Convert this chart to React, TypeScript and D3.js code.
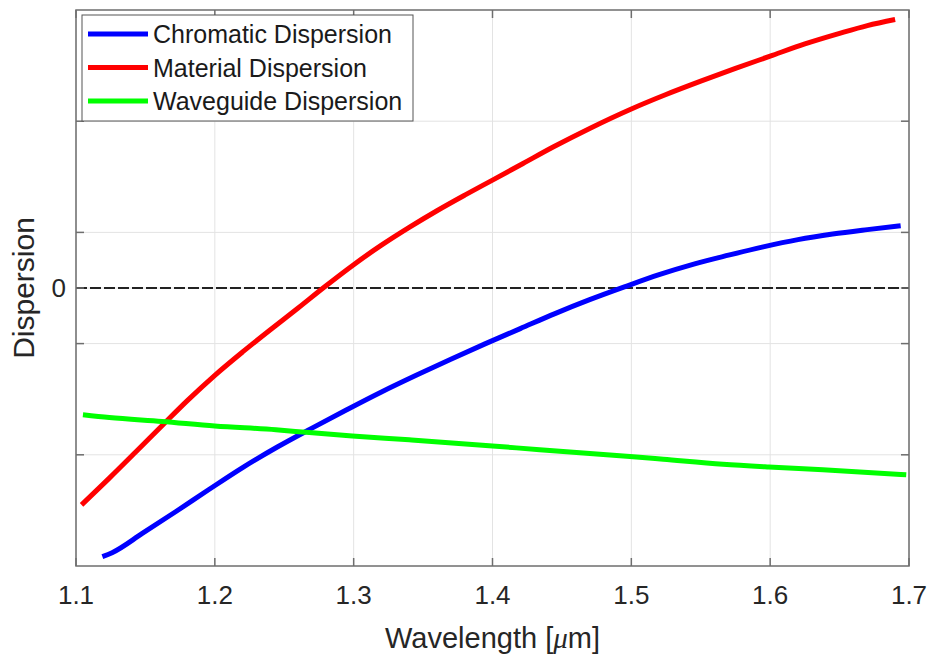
import React, { useEffect, useRef } from "react";
import * as d3 from "d3";

// wavelength [um] and dispersion readings for each curve
const chromaticX = [1.119, 1.126, 1.148, 1.172, 1.196, 1.22, 1.245, 1.27, 1.295, 1.32, 1.345, 1.37, 1.395, 1.42, 1.445, 1.47, 1.495, 1.52, 1.545, 1.57, 1.595, 1.62, 1.645, 1.67, 1.694];
const chromaticY = [-4.83, -4.76, -4.41, -4.02, -3.62, -3.23, -2.86, -2.52, -2.19, -1.87, -1.57, -1.28, -1.0, -0.73, -0.46, -0.21, 0.02, 0.24, 0.43, 0.59, 0.74, 0.87, 0.97, 1.05, 1.12];

const materialX = [1.104, 1.124, 1.143, 1.163, 1.18, 1.2, 1.22, 1.24, 1.26, 1.278, 1.3, 1.32, 1.34, 1.36, 1.38, 1.4, 1.422, 1.444, 1.47, 1.5, 1.525, 1.55, 1.575, 1.6, 1.625, 1.65, 1.67, 1.69];
const materialY = [-3.9, -3.42, -2.95, -2.45, -2.03, -1.57, -1.15, -0.75, -0.36, 0, 0.42, 0.77, 1.09, 1.39, 1.67, 1.94, 2.24, 2.54, 2.87, 3.22, 3.48, 3.72, 3.95, 4.17, 4.39, 4.58, 4.72, 4.83];

const waveguideX = [1.105, 1.124, 1.162, 1.2, 1.244, 1.268, 1.299, 1.34, 1.4, 1.434, 1.499, 1.523, 1.566, 1.599, 1.638, 1.698];
const waveguideY = [-2.28, -2.33, -2.4, -2.48, -2.55, -2.6, -2.66, -2.73, -2.84, -2.91, -3.03, -3.08, -3.17, -3.22, -3.27, -3.36];

const seriesNames = ["Chromatic Dispersion", "Material Dispersion", "Waveguide Dispersion"];
const seriesColors = ["#0000ff", "#ff0000", "#00ff00"];

const xTicks = [1.1, 1.2, 1.3, 1.4, 1.5, 1.6, 1.7];
const yTicks = [-3, -1, 0, 1, 3];
const yTickLabels = ["", "", "0", "", ""];

const W = 932, H = 658;
const FONT = "'Liberation Sans', Arial, sans-serif";

export default function App() {
  const ref = useRef<SVGSVGElement>(null);

  useEffect(() => {
    const svg = d3.select(ref.current);
    svg.selectAll("*").remove();

    const left = 76, right = 909, top = 10, bottom = 566;
    const x = d3.scaleLinear().domain([1.1, 1.7]).range([left, right]);
    const y = d3.scaleLinear().domain([-5, 5]).range([bottom, top]);

    svg.append("rect").attr("width", W).attr("height", H).attr("fill", "#fff");

    // grid
    const grid = svg.append("g").attr("stroke", "#e3e3e3").attr("stroke-width", 1);
    xTicks.forEach(t => {
      grid.append("line").attr("x1", x(t)).attr("x2", x(t)).attr("y1", top).attr("y2", bottom);
    });
    yTicks.forEach(t => {
      grid.append("line").attr("x1", left).attr("x2", right).attr("y1", y(t)).attr("y2", y(t));
    });

    // zero line
    svg.append("line")
      .attr("x1", left).attr("x2", right).attr("y1", y(0)).attr("y2", y(0))
      .attr("stroke", "#222").attr("stroke-width", 2.2).attr("stroke-dasharray", "11,3");

    const data = [
      d3.zip(chromaticX, chromaticY),
      d3.zip(materialX, materialY),
      d3.zip(waveguideX, waveguideY),
    ];
    const line = d3.line<number[]>().x(d => x(d[0])).y(d => y(d[1])).curve(d3.curveMonotoneX);
    data.forEach((pts, i) => {
      svg.append("path").attr("d", line(pts)!).attr("fill", "none")
        .attr("stroke", seriesColors[i]).attr("stroke-width", 5)
        .attr("stroke-linejoin", "round");
    });

    // axes box and ticks
    const ax = svg.append("g").attr("stroke", "#6e6e6e").attr("stroke-width", 1.5).attr("fill", "none");
    ax.append("rect").attr("x", left).attr("y", top).attr("width", right - left).attr("height", bottom - top);
    xTicks.forEach(t => {
      ax.append("line").attr("x1", x(t)).attr("x2", x(t)).attr("y1", bottom).attr("y2", bottom - 8);
      ax.append("line").attr("x1", x(t)).attr("x2", x(t)).attr("y1", top).attr("y2", top + 8);
    });
    yTicks.forEach(t => {
      ax.append("line").attr("x1", left).attr("x2", left + 8).attr("y1", y(t)).attr("y2", y(t));
      ax.append("line").attr("x1", right).attr("x2", right - 8).attr("y1", y(t)).attr("y2", y(t));
    });

    const txt = svg.append("g").attr("font-family", FONT).attr("fill", "#262626");
    xTicks.forEach(t => {
      txt.append("text").attr("x", x(t)).attr("y", 604).attr("text-anchor", "middle")
        .attr("font-size", 26).text(d3.format(".1f")(t));
    });
    yTicks.forEach((t, i) => {
      if (!yTickLabels[i]) return;
      txt.append("text").attr("x", left - 10).attr("y", y(t)).attr("text-anchor", "end")
        .attr("dominant-baseline", "central").attr("font-size", 26).text(yTickLabels[i]);
    });

    const xl = txt.append("text").attr("x", (left + right) / 2).attr("y", 648)
      .attr("text-anchor", "middle").attr("font-size", 29);
    xl.append("tspan").text("Wavelength [");
    xl.append("tspan").attr("font-family", "'Liberation Serif', 'Times New Roman', serif").attr("font-style", "italic").text("μ");
    xl.append("tspan").text("m]");

    txt.append("text").attr("transform", `translate(34,${(top + bottom) / 2}) rotate(-90)`)
      .attr("text-anchor", "middle").attr("font-size", 30).text("Dispersion");

    // legend
    const lg = svg.append("g");
    lg.append("rect").attr("x", 82).attr("y", 15).attr("width", 331).attr("height", 106)
      .attr("fill", "#fff").attr("stroke", "#555").attr("stroke-width", 1);
    seriesNames.forEach((name, i) => {
      const cy = 34 + i * 33.5;
      lg.append("line").attr("x1", 88).attr("x2", 148).attr("y1", cy).attr("y2", cy)
        .attr("stroke", seriesColors[i]).attr("stroke-width", 5);
      lg.append("text").attr("x", 153).attr("y", cy).attr("dominant-baseline", "central")
        .attr("font-family", FONT).attr("font-size", 25).attr("fill", "#1a1a1a").text(name);
    });
  }, []);

  return (
    <div style={{ position: "absolute", left: 0, top: 0 }}>
      <svg ref={ref} width={W} height={H} />
    </div>
  );
}
